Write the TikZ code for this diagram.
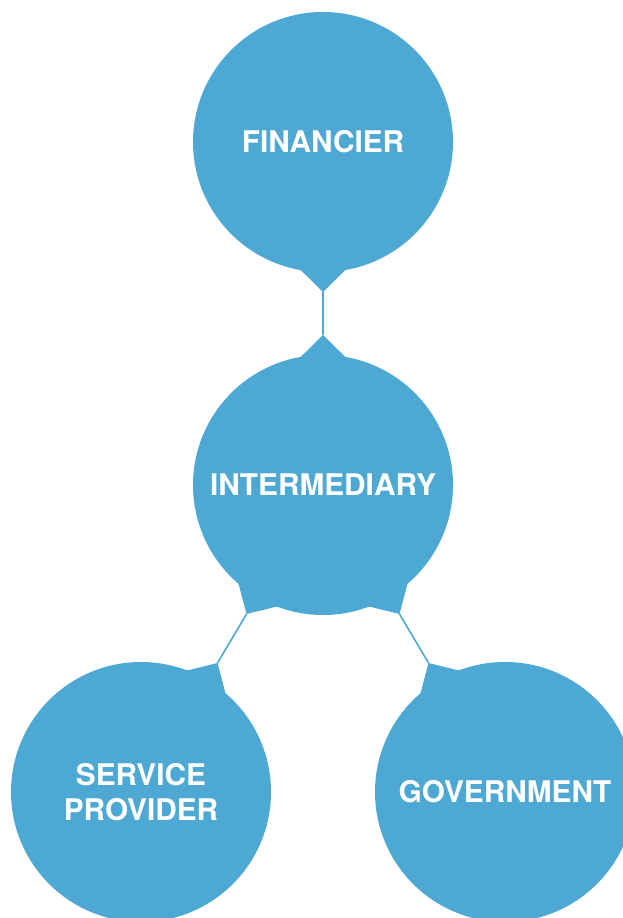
\documentclass[tikz,border=0pt]{standalone}
\usepackage{fontspec}
\setmainfont{TeX Gyre Heros}
\usetikzlibrary{calc,backgrounds}
\definecolor{bubbleblue}{HTML}{4EA8D4}
\tikzset{
  bubble/.style={circle, fill=bubbleblue, minimum size=260pt, inner sep=0pt,
    text=white, font=\fontsize{29.8}{35}\selectfont\bfseries, align=center},
  link/.style={draw=bubbleblue, line width=1.6pt},
}
% pointer of bubble #1 aimed at bubble #2; tip named #1-#2
\newcommand{\pointer}[2]{%
  \coordinate (#1-#2) at ($(#1)!150pt!(#2)$);
  \fill[bubbleblue] ($(#1)!129pt!-10.5:(#2)$) -- (#1-#2) -- ($(#1)!129pt!10.5:(#2)$) -- cycle;
}
\begin{document}
\begin{tikzpicture}[x=1pt,y=-1pt]
  \useasboundingbox (0,0) rectangle (622,918);
  \node[bubble] (fin) at (323,142) {FINANCIER};
  \node[bubble] (int) at (323,485) {INTERMEDIARY};
  \node[bubble] (sp)  at (141,792) {SERVICE\\PROVIDER};
  \node[bubble] (gov) at (505,792) {GOVERNMENT};
  \begin{scope}[on background layer]
    \pointer{fin}{int}
    \pointer{int}{fin}
    \pointer{int}{sp}
    \pointer{sp}{int}
    \pointer{int}{gov}
    \pointer{gov}{int}
    \draw[link] (fin-int) -- (int-fin);
    \draw[link] (int-sp) -- (sp-int);
    \draw[link] (int-gov) -- (gov-int);
  \end{scope}
\end{tikzpicture}
\end{document}
